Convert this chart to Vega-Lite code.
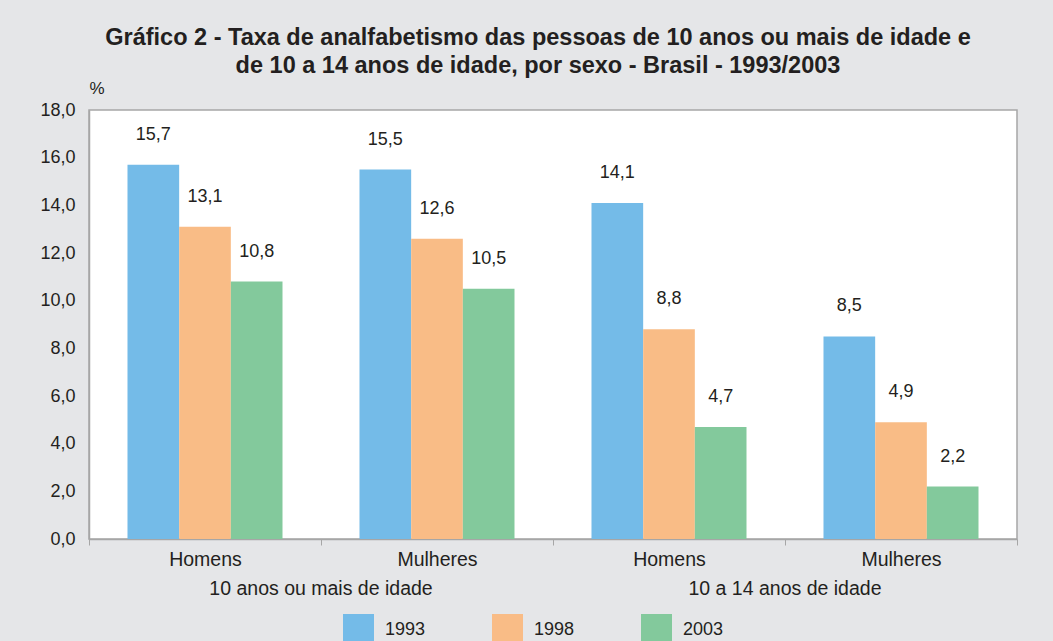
{
  "$schema": "https://vega.github.io/schema/vega-lite/v6.json",
  "width": 928,
  "height": 429,
  "autosize": {"type": "none"},
  "padding": {"left": 89, "top": 110, "right": 36, "bottom": 102},
  "background": "#e5e6e8",
  "title": {
    "text": ["Gráfico 2 - Taxa de analfabetismo das pessoas de 10 anos ou mais de idade e", "de 10 a 14 anos de idade, por sexo - Brasil - 1993/2003"],
    "font": "Liberation Sans",
    "fontSize": 23.5,
    "fontWeight": "bold",
    "color": "#231f20",
    "anchor": "middle",
    "frame": "group",
    "dx": -15,
    "offset": 2,
    "lineHeight": 28
  },
  "datasets": {
    "taxas": [
      {"cat": "1|Homens", "ano": "1993", "taxa": 15.7},
      {"cat": "1|Homens", "ano": "1998", "taxa": 13.1},
      {"cat": "1|Homens", "ano": "2003", "taxa": 10.8},
      {"cat": "2|Mulheres", "ano": "1993", "taxa": 15.5},
      {"cat": "2|Mulheres", "ano": "1998", "taxa": 12.6},
      {"cat": "2|Mulheres", "ano": "2003", "taxa": 10.5},
      {"cat": "3|Homens", "ano": "1993", "taxa": 14.1},
      {"cat": "3|Homens", "ano": "1998", "taxa": 8.8},
      {"cat": "3|Homens", "ano": "2003", "taxa": 4.7},
      {"cat": "4|Mulheres", "ano": "1993", "taxa": 8.5},
      {"cat": "4|Mulheres", "ano": "1998", "taxa": 4.9},
      {"cat": "4|Mulheres", "ano": "2003", "taxa": 2.2}
    ],
    "grupos": [
      {"cat": "1|Homens", "grupo": "10 anos ou mais de idade"},
      {"cat": "3|Homens", "grupo": "10 a 14 anos de idade"}
    ]
  },
  "layer": [
    {
      "data": {"name": "taxas"},
      "mark": {"type": "bar"},
      "encoding": {
        "x": {
          "field": "cat",
          "type": "nominal",
          "scale": {"paddingInner": 0, "paddingOuter": 0},
          "axis": {
            "title": null,
            "labelAngle": 0,
            "labelExpr": "split(datum.label, '|')[1]",
            "tickBand": "extent",
            "tickSize": 6,
            "tickColor": "#a6a6a6",
            "domainColor": "#a6a6a6",
            "domainWidth": 1.5,
            "labelFontSize": 19.5,
            "labelPadding": 5
          }
        },
        "xOffset": {
          "field": "ano",
          "type": "nominal",
          "scale": {"paddingInner": 0, "paddingOuter": 0.745}
        },
        "y": {
          "field": "taxa",
          "type": "quantitative",
          "scale": {"domain": [0, 18]},
          "axis": {
            "values": [0, 2, 4, 6, 8, 10, 12, 14, 16, 18],
            "format": ".1f",
            "grid": false,
            "ticks": false,
            "domainColor": "#a6a6a6",
            "domainWidth": 1.5,
            "labelFontSize": 18,
            "labelPadding": 14,
            "title": "%",
            "titleAngle": 0,
            "titleX": 0,
            "titleY": -17,
            "titleAlign": "left",
            "titleBaseline": "alphabetic",
            "titleFontWeight": "normal",
            "titleFontSize": 17
          }
        },
        "color": {
          "field": "ano",
          "type": "nominal",
          "scale": {"domain": ["1993", "1998", "2003"], "range": ["#74bbe8", "#f9bc86", "#83c99c"]},
          "legend": {
            "orient": "none",
            "legendX": 254,
            "legendY": 504,
            "direction": "horizontal",
            "title": null,
            "symbolType": "square",
            "symbolSize": 961,
            "symbolStrokeWidth": 0,
            "symbolOpacity": 1,
            "labelFontSize": 18,
            "labelOffset": 11,
            "columnPadding": 66,
            "padding": 0
          }
        }
      }
    },
    {
      "data": {"name": "taxas"},
      "mark": {"type": "text", "dy": -30, "baseline": "middle", "fontSize": 18},
      "encoding": {
        "x": {"field": "cat", "type": "nominal"},
        "xOffset": {"field": "ano", "type": "nominal"},
        "y": {"field": "taxa", "type": "quantitative"},
        "text": {"field": "taxa", "type": "quantitative", "format": ".1f"}
      }
    },
    {
      "data": {"name": "grupos"},
      "mark": {"type": "text", "dy": 50, "baseline": "middle", "fontSize": 19.5},
      "encoding": {
        "x": {"field": "cat", "type": "nominal", "bandPosition": 1},
        "y": {"datum": 0, "type": "quantitative"},
        "text": {"field": "grupo", "type": "nominal"}
      }
    }
  ],
  "config": {
    "font": "Liberation Sans",
    "locale": {"number": {"decimal": ",", "thousands": ".", "grouping": [3], "currency": ["R$", ""]}},
    "view": {"fill": "white", "stroke": "#a6a6a6", "strokeWidth": 1.5},
    "text": {"color": "#231f20", "font": "Liberation Sans"},
    "axis": {"labelColor": "#231f20", "titleColor": "#231f20", "labelFont": "Liberation Sans", "titleFont": "Liberation Sans"},
    "legend": {"labelColor": "#231f20", "labelFont": "Liberation Sans"}
  }
}
